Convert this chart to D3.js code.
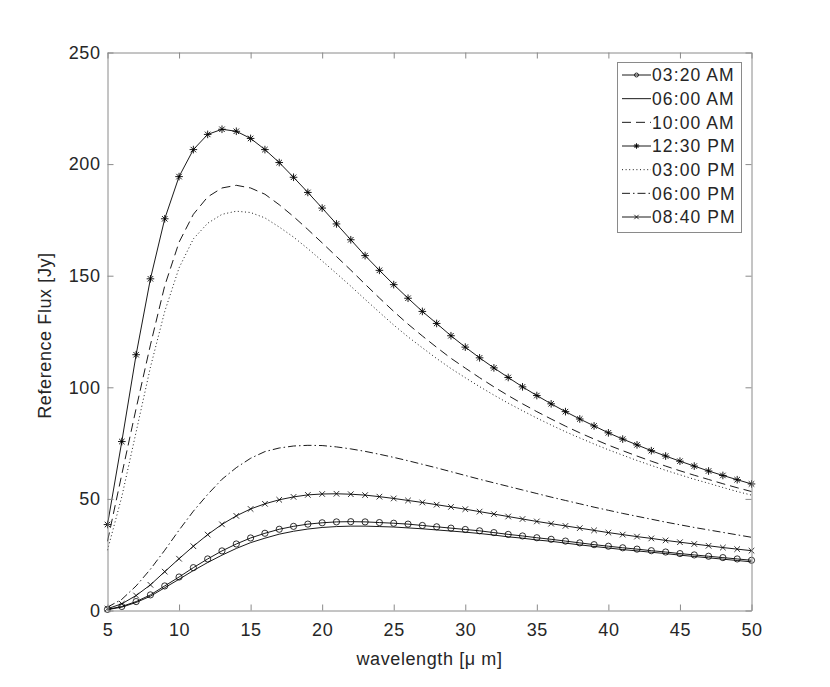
<!DOCTYPE html>
<html>
<head>
<meta charset="utf-8">
<script src="https://cdn.jsdelivr.net/npm/d3@7"></script>
<style>
  html, body { margin: 0; padding: 0; background: #fff; }
  svg { display: block; }
  text { font-family: "Liberation Sans", Arial, Helvetica, sans-serif; fill: #262626; }
</style>
</head>
<body>
<svg id="chart" width="830" height="687"></svg>
<script>
// ---------------- data ----------------
const wavelength = [5,6,7,8,9,10,11,12,13,14,15,16,17,18,19,20,21,22,23,24,25,26,27,28,29,30,
  31,32,33,34,35,36,37,38,39,40,41,42,43,44,45,46,47,48,49,50];

const am0320 = [0.5,1.8,4.0,7.0,11.0,15.0,19.2,23.1,26.7,29.8,32.5,34.6,36.4,37.7,38.7,39.3,39.7,39.8,39.7,39.4,
  39.1,38.7,38.1,37.5,36.9,36.3,35.7,34.9,34.1,33.4,32.6,31.9,31.1,30.3,29.5,28.8,28.1,27.5,26.8,26.2,
  25.5,24.9,24.3,23.7,23.1,22.5];
const am0600 = [0.4,1.5,3.6,6.4,10.2,14.0,17.9,21.5,24.8,27.8,30.4,32.4,34.2,35.5,36.5,37.2,37.6,37.8,37.8,37.6,
  37.4,37.0,36.6,36.1,35.6,35.1,34.5,33.8,33.0,32.4,31.6,31.0,30.2,29.4,28.7,28.0,27.3,26.7,26.1,25.5,
  24.8,24.2,23.6,23.0,22.4,21.8];
const am1000 = [31,61,90.5,119,145.5,165,177.5,185.3,189.3,190.5,189.3,186.5,181.8,176.5,170.7,164.7,158.6,152.5,146.2,140.0,
  134.0,128.3,123.0,117.9,113.0,108.6,104.3,100.2,96.3,92.6,89.1,85.8,82.6,79.6,76.8,74.1,71.6,69.2,66.9,64.7,
  62.6,60.6,58.7,56.8,55.0,53.3];
const pm1230 = [38.5,75.7,114.6,148.6,175.5,194.4,206.5,213.3,215.6,214.7,211.5,206.5,200.7,194.1,187.3,180.3,173.2,166.1,159.0,152.4,
  146.0,139.9,134.0,128.6,123.1,118.0,113.2,108.7,104.4,100.2,96.3,92.6,89.1,85.8,82.7,79.6,76.8,74.2,71.6,69.2,
  66.9,64.7,62.5,60.5,58.6,56.7];
const pm0300 = [27,51,80,109,134,153.5,166.5,173.5,177.5,178.9,178.3,175.9,171.8,167.3,162.1,156.6,151.0,145.3,139.4,133.6,
  127.9,122.6,117.7,112.9,108.4,104.3,100.3,96.5,92.9,89.5,86.2,83.1,80.1,77.3,74.6,72.0,69.6,67.2,65.0,62.8,
  60.8,58.8,57.0,55.1,53.3,51.7];
const pm0600 = [1.5,5,11,18.5,27,36,44.5,52,58.8,64.0,68.2,71.2,72.8,73.7,74.0,73.9,73.3,72.4,71.3,70.0,
  68.6,67.1,65.5,63.9,62.2,60.5,58.8,57.2,55.6,54.0,52.4,50.8,49.3,47.8,46.3,44.9,43.5,42.2,40.9,39.6,
  38.4,37.2,36.1,35.0,33.9,32.8];
const pm0840 = [0.8,3.0,6.7,11.5,17.4,23.2,28.8,34.0,38.6,42.4,45.5,47.8,49.6,50.9,51.8,52.2,52.3,52.1,51.7,51.0,
  50.2,49.3,48.4,47.4,46.4,45.4,44.3,43.2,42.1,41.0,39.9,38.9,37.9,36.9,35.9,34.9,34.0,33.1,32.3,31.4,
  30.6,29.8,29.0,28.2,27.5,26.8];

const seriesLabels = ["03:20 AM","06:00 AM","10:00 AM","12:30 PM","03:00 PM","06:00 PM","08:40 PM"];
const seriesValues = [am0320, am0600, am1000, pm1230, pm0300, pm0600, pm0840];
const seriesDash   = [null, null, "9,5", null, "1,2.6", "8,3,1.5,3", null];
const seriesMarker = ["circle", null, null, "star", null, null, "x"];

const xTicks = [5,10,15,20,25,30,35,40,45,50];
const yTicks = [0,50,100,150,200,250];
const xLabel = "wavelength [\u03BC m]";
const yLabel = "Reference Flux [Jy]";

// ---------------- layout ----------------
const svg = d3.select("#chart");
const L = 107.5, R = 751.5, T = 52.5, B = 610.5;
const x = d3.scaleLinear().domain([5, 50]).range([L, R]);
const y = d3.scaleLinear().domain([0, 250]).range([B, T]);
const axisColor = "#8a8a8a";

// plot box background
svg.append("rect").attr("x", L).attr("y", T).attr("width", R - L).attr("height", B - T)
  .attr("fill", "#fff");

// series
const lineGen = d3.line().x((d, i) => x(wavelength[i])).y(d => y(d));
const gLines = svg.append("g");
seriesValues.forEach((vals, k) => {
  gLines.append("path")
    .attr("d", lineGen(vals))
    .attr("fill", "none")
    .attr("stroke", "#000")
    .attr("stroke-width", 0.9)
    .attr("stroke-dasharray", seriesDash[k]);
});

function drawMarker(g, type, cx, cy, s) {
  if (type === "circle") {
    g.append("circle").attr("cx", cx).attr("cy", cy).attr("r", s)
      .attr("fill", "none").attr("stroke", "#000").attr("stroke-width", 0.8);
  } else if (type === "star") {
    const d = s * 0.72;
    const p = `M${cx - s},${cy}L${cx + s},${cy}M${cx},${cy - s}L${cx},${cy + s}` +
              `M${cx - d},${cy - d}L${cx + d},${cy + d}M${cx - d},${cy + d}L${cx + d},${cy - d}`;
    g.append("path").attr("d", p).attr("stroke", "#000").attr("stroke-width", 0.9).attr("fill", "none");
  } else if (type === "x") {
    const p = `M${cx - s},${cy - s}L${cx + s},${cy + s}M${cx - s},${cy + s}L${cx + s},${cy - s}`;
    g.append("path").attr("d", p).attr("stroke", "#000").attr("stroke-width", 0.8).attr("fill", "none");
  }
}

const gMarks = svg.append("g");
const markerSize = { circle: 3.1, star: 3.8, x: 2.8 };
seriesValues.forEach((vals, k) => {
  const m = seriesMarker[k];
  if (!m) return;
  vals.forEach((v, i) => drawMarker(gMarks, m, x(wavelength[i]), y(v), markerSize[m]));
});

// axes (ticks inside, box on)
function styleAxis(g) {
  g.selectAll("path.domain").attr("stroke", axisColor).attr("stroke-width", 1);
  g.selectAll(".tick line").attr("stroke", axisColor).attr("stroke-width", 1);
  g.selectAll(".tick text").attr("fill", "#262626")
    .style("font-size", "18px").style("letter-spacing", "0.6px")
    .style("font-family", "'Liberation Sans', Arial, sans-serif");
}
svg.append("g").attr("transform", `translate(0,${B})`)
  .call(d3.axisBottom(x).tickValues(xTicks).tickSizeInner(-6).tickSizeOuter(0).tickPadding(13))
  .call(styleAxis);
svg.append("g").attr("transform", `translate(0,${T})`)
  .call(d3.axisTop(x).tickValues(xTicks).tickSizeInner(-6).tickSizeOuter(0).tickFormat(""))
  .call(styleAxis);
svg.append("g").attr("transform", `translate(${L},0)`)
  .call(d3.axisLeft(y).tickValues(yTicks).tickSizeInner(-6).tickSizeOuter(0).tickPadding(7))
  .call(styleAxis);
svg.append("g").attr("transform", `translate(${R},0)`)
  .call(d3.axisRight(y).tickValues(yTicks).tickSizeInner(-6).tickSizeOuter(0).tickFormat(""))
  .call(styleAxis);
svg.selectAll("g.tick text").attr("font-family", null);

// axis labels
svg.append("text").attr("x", (L + R) / 2).attr("y", 665)
  .attr("text-anchor", "middle").style("font-size", "18px").style("letter-spacing", "0.6px")
  .text(xLabel);
svg.append("text").attr("transform", `translate(51,${(T + B) / 2 + 4}) rotate(-90)`)
  .attr("text-anchor", "middle").style("font-size", "18px").style("letter-spacing", "0.6px")
  .text(yLabel);

// legend
const lg = svg.append("g");
const lx = 617.5, ly = 62.5, lw = 124, lh = 170;
lg.append("rect").attr("x", lx).attr("y", ly).attr("width", lw).attr("height", lh)
  .attr("fill", "#fff").attr("stroke", axisColor).attr("stroke-width", 1);
const rowY = d3.scaleLinear().domain([0, 6]).range([75, 217]);
const legendMarkerSize = { circle: 2.0, star: 2.8, x: 2.2 };
seriesLabels.forEach((lab, k) => {
  const cy = rowY(k);
  lg.append("line").attr("x1", 622).attr("x2", 651).attr("y1", cy).attr("y2", cy)
    .attr("stroke", "#000").attr("stroke-width", 0.9)
    .attr("stroke-dasharray", seriesDash[k]);
  if (seriesMarker[k]) drawMarker(lg, seriesMarker[k], 636.5, cy, legendMarkerSize[seriesMarker[k]]);
  lg.append("text").attr("x", 652).attr("y", cy + 6.3)
    .style("font-size", "17.5px").style("letter-spacing", "1.1px")
    .text(lab);
});
</script>
</body>
</html>
